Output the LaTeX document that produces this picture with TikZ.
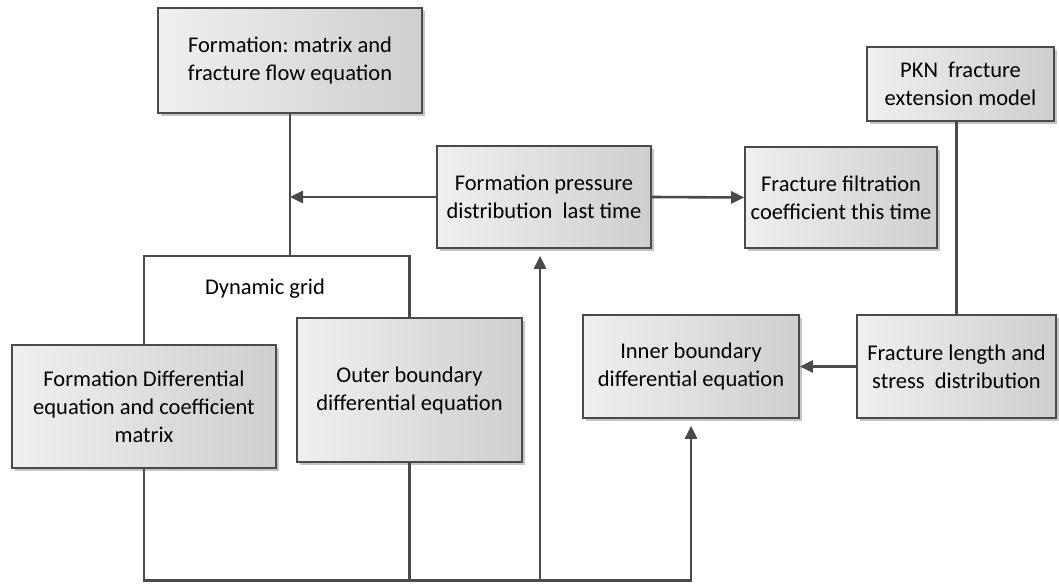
\documentclass[tikz,border=0pt]{standalone}
\usepackage{fontspec}
\setmainfont{Carlito}
\usetikzlibrary{arrows.meta,shadows}

\definecolor{linegray}{HTML}{4A4A4A}
\tikzset{
  box/.style={draw=linegray, line width=1.6pt, left color=gray!12, right color=gray!38,
    drop shadow={shadow xshift=3pt, shadow yshift=-3pt, fill=black!45},
    align=center, inner sep=0pt, font=\fontsize{22.5}{28}\selectfont\frenchspacing},
  conn/.style={draw=linegray, line width=2.6pt},
  arr/.style={conn, -{Triangle[length=13pt,width=12pt]}}
}

\begin{document}
\begin{tikzpicture}[x=1pt, y=-1pt]
        \useasboundingbox (0, 0) rectangle (1059, 583);

        % boxes
        \node[box, minimum width=264, minimum height=105] (fm) at (290, 60.5)
            {Formation: matrix and\\fracture flow equation};
        \node[box, minimum width=187, minimum height=74] (pkn) at (960.5, 84)
            {PKN~ fracture\\extension model};
        \node[box, minimum width=214, minimum height=102] (fp) at (544, 197)
            {Formation pressure\\distribution~ last time};
        \node[box, minimum width=192, minimum height=101] (ff) at (841, 197.5)
            {Fracture filtration\\coefficient this time};
        \node[box, minimum width=264, minimum height=123] (fd) at (144, 406.5)
            {Formation Differential\\equation and coefficient\\matrix};
        \node[box, minimum width=225, minimum height=144] (ob) at (409.5, 390)
            {Outer boundary\\differential equation};
        \node[box, minimum width=216, minimum height=103] (ib) at (691, 366.5)
            {Inner boundary\\differential equation};
        \node[box, minimum width=199, minimum height=103] (fl) at (956.5, 366.5)
            {Fracture length and\\stress~ distribution};

        \node[font=\fontsize{22.5}{28}\selectfont] (dg) at (265, 289) {Dynamic grid};

        \coordinate (grid) at (290, 256);
        \coordinate (bot) at (540, 580.5);

        % connectors
        \draw[conn] (fm.south) -- (grid);
        \draw[conn] (fd.north) |- (grid) -| (ob.north);
        \draw[arr] (fp.west) -- (fp.west -| fm.south);
        \draw[arr] (fp.east) -- (ff.west);
        \draw[conn] (pkn.south -| fl.north) -- (fl.north);
        \draw[arr] (fl.west) -- (ib.east);
        \draw[arr, shorten >=7pt] (fd.south) |- (bot) -| (ib.south);
        \draw[conn] (ob.south) -- (ob.south |- bot);
        \draw[arr, shorten >=7pt] (bot) -- (bot |- fp.south);
    \end{tikzpicture}
\end{document}
